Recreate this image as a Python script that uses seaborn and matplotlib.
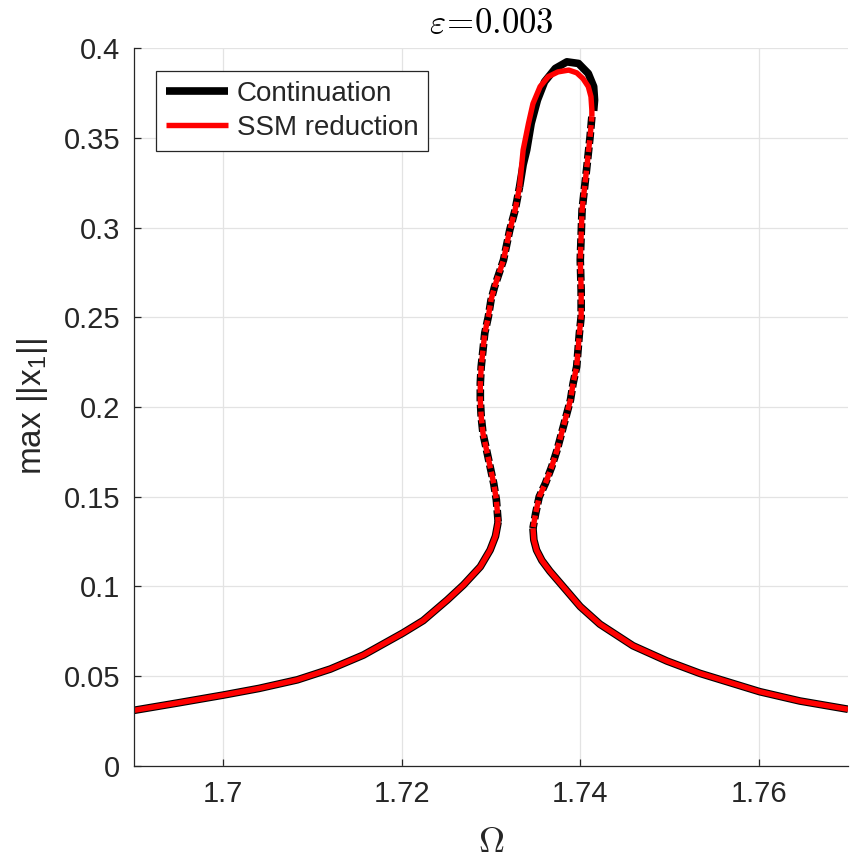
import numpy as np
import pandas as pd
import matplotlib
matplotlib.use("Agg")
import matplotlib.pyplot as plt
import seaborn as sns
from matplotlib.ticker import FixedLocator, FixedFormatter

# ---------------- data ----------------
# lower-left stable branch
low_left_x = [1.6900, 1.6950, 1.7000, 1.7040, 1.7083, 1.7120, 1.7157, 1.7201,
              1.7224, 1.7251, 1.7269, 1.7288, 1.7299, 1.7305, 1.7308]
low_left_y = [0.0310, 0.0352, 0.0395, 0.0432, 0.0480, 0.0540, 0.0618, 0.0740,
              0.0810, 0.0925, 0.1008, 0.1110, 0.1203, 0.1280, 0.1360]
# left unstable branch (bottom -> top)
left_unst_x = [1.7308, 1.7306, 1.7303, 1.7299, 1.7295, 1.7291, 1.7289, 1.7288,
               1.7288, 1.7289, 1.7291, 1.7293, 1.7297, 1.7300, 1.7304, 1.7314,
               1.7321, 1.7327, 1.7332]
left_unst_y = [0.1360, 0.1482, 0.1575, 0.1667, 0.1760, 0.1853, 0.1946, 0.2039,
               0.2132, 0.2225, 0.2318, 0.2412, 0.2503, 0.2596, 0.2670, 0.2819,
               0.2986, 0.3097, 0.3227]
# top stable part, continuation
top_cont_x = [1.7332, 1.7336, 1.7340, 1.7345, 1.7352, 1.7360, 1.7372, 1.7385,
              1.7398, 1.7409, 1.7415, 1.7416, 1.7415]
top_cont_y = [0.3227, 0.3350, 0.3432, 0.3580, 0.3710, 0.3812, 0.3886, 0.3923,
              0.3914, 0.3858, 0.3785, 0.3710, 0.3650]
# top stable part, SSM reduction
top_ssm_x = [1.7332, 1.7336, 1.7342, 1.7347, 1.7355, 1.7364, 1.7375, 1.7387,
             1.7396, 1.7403, 1.7409, 1.7412, 1.7413, 1.7413]
top_ssm_y = [0.3227, 0.3432, 0.3580, 0.3690, 0.3785, 0.3840, 0.3867, 0.3877,
             0.3862, 0.3830, 0.3785, 0.3729, 0.3655, 0.3617]
# right unstable branch (top -> bottom)
right_unst_x = [1.7413, 1.7411, 1.7407, 1.7402, 1.7400, 1.7401, 1.7401, 1.7399,
                1.7396, 1.7392, 1.7389, 1.7384, 1.7379, 1.7374, 1.7368, 1.7361,
                1.7354, 1.7350, 1.7347]
right_unst_y = [0.3617, 0.3506, 0.3320, 0.3097, 0.2819, 0.2650, 0.2503, 0.2410,
                0.2225, 0.2132, 0.2039, 0.1946, 0.1853, 0.1760, 0.1667, 0.1575,
                0.1500, 0.1407, 0.1324]
# lower-right stable branch
low_right_x = [1.7347, 1.7348, 1.7351, 1.7357, 1.7366, 1.7385, 1.7400, 1.7422,
               1.7459, 1.7497, 1.7534, 1.7601, 1.7646, 1.7700]
low_right_y = [0.1324, 0.1259, 0.1203, 0.1145, 0.1085, 0.0975, 0.0888, 0.0790,
               0.0670, 0.0585, 0.0516, 0.0414, 0.0362, 0.0316]

x_ticks = [1.70, 1.72, 1.74, 1.76]
x_tick_labels = ["1.7", "1.72", "1.74", "1.76"]
y_ticks = [0, 0.05, 0.1, 0.15, 0.2, 0.25, 0.3, 0.35, 0.4]
y_tick_labels = ["0", "0.05", "0.1", "0.15", "0.2", "0.25", "0.3", "0.35", "0.4"]
series_labels = ["Continuation", "SSM reduction"]
title_text = r"$\varepsilon\!=\!0.003$"

# ---------------- style ----------------
sns.set_theme(style="whitegrid")
plt.rcParams["font.family"] = ["Liberation Sans", "DejaVu Sans"]
plt.rcParams["mathtext.fontset"] = "custom"
plt.rcParams["mathtext.rm"] = "Liberation Sans"
plt.rcParams["mathtext.it"] = "Liberation Sans:italic"
plt.rcParams["lines.scale_dashes"] = False
plt.rcParams["axes.edgecolor"] = "#262626"
plt.rcParams["grid.color"] = "#e3e3e3"
plt.rcParams["grid.linewidth"] = 0.9

fig = plt.figure(figsize=(8.57, 8.59), dpi=100)
ax = fig.add_axes([0.1564, 0.1083, 0.8331, 0.8358])

BLACK_LW = 5.5
RED_LW = 3.9
dash_black = (0, (8.5, 2.5))
dash_red = (5, (8.5, 2.5))


def seg(x, y):
    return pd.DataFrame({"x": x, "y": y})


def draw(x, y, color, lw, ls, label=None):
    sns.lineplot(data=seg(x, y), x="x", y="y", sort=False, estimator=None,
                 color=color, linewidth=lw, linestyle=ls, ax=ax, label=label,
                 solid_capstyle="butt", dash_capstyle="butt",
                 solid_joinstyle="round", dash_joinstyle="round")


# continuation (black)
draw(low_left_x, low_left_y, "black", BLACK_LW, "-", series_labels[0])
draw(left_unst_x, left_unst_y, "black", BLACK_LW, dash_black)
draw(top_cont_x, top_cont_y, "black", BLACK_LW, "-")
draw(right_unst_x, right_unst_y, "black", BLACK_LW, dash_black)
draw(low_right_x, low_right_y, "black", BLACK_LW, "-")
# SSM reduction (red)
draw(low_left_x, low_left_y, "#ff0000", RED_LW, "-", series_labels[1])
draw(left_unst_x, left_unst_y, "#ff0000", RED_LW, dash_red)
draw(top_ssm_x, top_ssm_y, "#ff0000", RED_LW, "-")
draw(right_unst_x, right_unst_y, "#ff0000", RED_LW, dash_red)
draw(low_right_x, low_right_y, "#ff0000", RED_LW, "-")

ax.set_xlim(1.69, 1.77)
ax.set_ylim(0, 0.4)
ax.xaxis.set_major_locator(FixedLocator(x_ticks))
ax.xaxis.set_major_formatter(FixedFormatter(x_tick_labels))
ax.yaxis.set_major_locator(FixedLocator(y_ticks))
ax.yaxis.set_major_formatter(FixedFormatter(y_tick_labels))

for s in ["top", "right"]:
    ax.spines[s].set_visible(False)
for s in ["left", "bottom"]:
    ax.spines[s].set_color("#262626")
    ax.spines[s].set_linewidth(0.9)

ax.tick_params(axis="both", which="major", direction="in", length=5, width=0.9,
               color="#262626", labelsize=21, labelcolor="#262626", pad=10,
               left=True, bottom=True)
ax.grid(True, color="#e3e3e3", linewidth=0.9)
ax.set_axisbelow(True)

ax.set_xlabel(r"$\Omega$", fontsize=26, math_fontfamily="cm", color="#262626",
              labelpad=12)
ax.set_ylabel(r"max ||x$_{1}$||", fontsize=24, color="#262626")
ax.yaxis.set_label_coords(-0.118, 0.5)
ax.set_title(title_text, fontsize=25, math_fontfamily="cm", color="black", pad=11)

leg = ax.legend(loc="upper left", bbox_to_anchor=(0.031, 0.968), fontsize=20,
                frameon=True, fancybox=False, framealpha=1, edgecolor="#262626",
                borderpad=0.35, handlelength=2.25, handletextpad=0.3,
                labelspacing=0.3, borderaxespad=0)
leg.get_frame().set_linewidth(0.9)

fig.savefig("out.png", dpi=100)
